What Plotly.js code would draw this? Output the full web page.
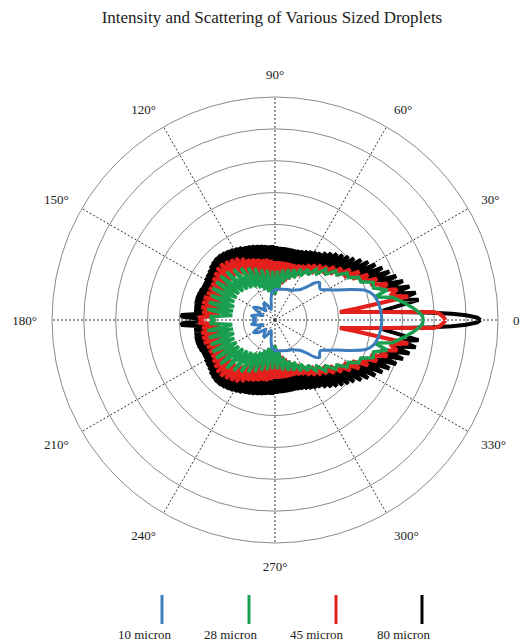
<!DOCTYPE html>
<html>
<head>
<meta charset="utf-8">
<script src="https://cdn.plot.ly/plotly-3.0.1.min.js"></script>
<style>html,body{margin:0;padding:0;background:#fff;}#chart{width:523px;height:643px;}</style>
</head>
<body>
<div id="chart"></div>
<script>
// ---- DATA (half pattern 0..180 deg, mirrored for 180..360) ----
const seriesNames = ['10 micron', '28 micron', '45 micron', '80 micron'];
const angleTickVals = [0, 30, 60, 90, 120, 150, 180, 210, 240, 270, 300, 330];
const angleTickText = ['0', '30°', '60°', '90°', '120°', '150°', '180°', '210°', '240°', '270°', '300°', '330°'];

const blueTheta = [0,5,10,14,18,22,26,30,34,37,40,43,46,50,55,60,65,70,75,80,85,90,95,100,105,110,115,120,125,130,135,140,145,150,155,160,165,170,175,180];
const blueR     = [3.35,3.33,3.28,3.2,3.0,2.55,2.15,1.9,1.72,1.75,1.83,1.7,1.45,1.25,1.15,1.08,1.05,1.02,1.0,0.98,0.97,0.95,0.9,0.7,0.45,0.35,0.45,0.6,0.62,0.5,0.4,0.55,0.7,0.78,0.55,0.4,0.6,0.75,0.6,0.7];

const greenTheta = [0,1.5,3,5,8,11,13,15,18,21,24,27,30,33,36,39,42,45,48,51,54,57,60,63,66,69,72,75,78,81,84,87,90,93,96,99,102,105,108,111,114,117,120,123,126,129,132,135,138,141,144,147,150,153,156,159,162,165,168,171,174,177,180];
const greenR     = [4.65,4.63,4.53,4.35,4.05,3.75,3.2,3.65,3.25,3.3,2.95,2.95,2.65,2.7,2.4,2.45,2.15,2.25,1.95,2.05,1.75,1.9,1.6,1.8,1.45,1.7,1.35,1.65,1.2,1.6,1.0,1.55,0.8,1.55,0.8,1.6,0.9,1.65,1.0,1.75,1.1,1.85,1.2,1.95,1.25,2.05,1.3,2.15,1.35,2.2,1.4,2.2,1.4,2.2,1.4,2.15,1.35,2.15,1.35,2.15,1.35,2.05,1.9];

const redTheta = [0,0.8,1.6,2.4,2.9,3.3,3.8,4.5,5.5,7,8,10,12,14,16,18,20,22,24,26,28,30,32,34,36,38,40,42,44,46,48,50,52,54,56,58,60,62,64,66,68,70,72,74,76,78,80,82,84,86,88,90,92,94,96,98,100,102,104,106,108,110,112,114,116,118,120,122,124,126,128,130,132,134,136,138,140,142,144,146,148,150,152,154,156,158,160,162,164,166,168,170,172,174,176,178,180];
const redR     = [5.35,5.3,5.23,5.13,4.95,4.4,3.8,3.2,2.6,2.05,2.6,4.25,3.7,3.95,3.45,3.7,3.2,3.45,2.95,3.25,2.75,3.05,2.55,2.85,2.4,2.65,2.25,2.5,2.1,2.35,1.95,2.25,1.85,2.15,1.75,2.05,1.65,1.95,1.55,1.9,1.45,1.85,1.35,1.85,1.25,1.85,1.15,1.85,1.0,1.85,0.9,1.85,0.8,1.9,0.9,1.95,1.1,1.95,1.3,2.0,1.4,2.05,1.5,2.1,1.55,2.2,1.65,2.3,1.75,2.35,1.8,2.4,1.85,2.45,1.85,2.45,1.85,2.4,1.8,2.35,1.75,2.3,1.7,2.3,1.7,2.3,1.7,2.35,1.75,2.35,1.75,2.35,1.75,2.3,1.75,2.4,2.25];

const blackTheta = [0,0.7,1.4,2,2.6,3.2,4,5,
  6.5,8,9.5,11,12.5,14,15.5,17,18.5,20,21.5,23,24.5,26,27.5,29,30.5,32,33.5,35,36.5,38,39.5,41,42.5,44,45.5,47,48.5,50,
  51.5,53,54.5,56,57.5,59,60.5,62,63.5,65,66.5,68,69.5,71,72.5,74,75.5,77,78.5,80,81.5,83,84.5,86,87.5,89,90.5,92,93.5,95,
  96.5,98,99.5,101,102.5,104,105.5,107,108.5,110,111.5,113,114.5,116,117.5,119,120.5,122,123.5,125,126.5,128,129.5,131,
  132.5,134,135.5,137,138.5,140,141.5,143,144.5,146,147.5,149,150.5,152,153.5,155,156.5,158,159.5,161,162.5,164,165.5,167,
  168.5,170,171.5,173,174.5,176,177,178,179,180];
const blackR = [6.45,6.35,6.0,5.55,4.95,4.3,3.6,3.4,
  3.9,4.55,4.0,4.5,3.8,4.35,3.6,4.2,3.45,4.05,3.3,3.9,3.15,3.75,3.0,3.6,2.85,3.45,2.7,3.3,2.55,3.15,2.45,3.05,2.35,2.95,2.25,2.85,2.15,2.75,
  2.1,2.65,2.0,2.55,1.95,2.5,1.9,2.45,1.85,2.4,1.8,2.35,1.8,2.32,1.8,2.3,1.8,2.3,1.8,2.3,1.8,2.3,1.8,2.3,1.8,2.32,1.8,2.35,1.85,2.35,
  1.85,2.37,1.9,2.4,1.9,2.42,1.95,2.45,2.0,2.48,2.0,2.5,2.05,2.55,2.1,2.58,2.15,2.62,2.2,2.65,2.25,2.68,2.3,2.7,
  2.3,2.7,2.3,2.68,2.3,2.65,2.25,2.6,2.2,2.57,2.2,2.55,2.15,2.52,2.15,2.52,2.15,2.55,2.15,2.57,2.2,2.58,2.2,2.58,
  2.2,2.56,2.2,2.55,2.15,2.55,2.95,2.9,2.35,2.25];

// ---- build symmetric full patterns from half data ----
function mirror(th, r) {
  const t = th.slice(), rr = r.slice();
  for (let i = th.length - 2; i >= 0; i--) { t.push(360 - th[i]); rr.push(r[i]); }
  return {theta: t, r: rr};
}

const colors = {blue: '#3b7dbd', green: '#1a9e4f', red: '#e3201c', black: '#000000'};
const serif = 'Liberation Serif, Times New Roman, serif';

const bk = mirror(blackTheta, blackR);
const rd = mirror(redTheta, redR);
const gr = mirror(greenTheta, greenR);
const bl = mirror(blueTheta, blueR);

const traces = [
  {type: 'scatterpolar', mode: 'lines', name: seriesNames[3], theta: bk.theta, r: bk.r, line: {color: colors.black, width: 4}},
  {type: 'scatterpolar', mode: 'lines', name: seriesNames[2], theta: rd.theta, r: rd.r, line: {color: colors.red, width: 4}},
  {type: 'scatterpolar', mode: 'lines', name: seriesNames[1], theta: gr.theta, r: gr.r, line: {color: colors.green, width: 3.5}},
  {type: 'scatterpolar', mode: 'lines', name: seriesNames[0], theta: bl.theta, r: bl.r, line: {color: colors.blue, width: 3, shape: 'spline', smoothing: 0.6}}
];

// custom legend: vertical stroke above label
const legendColors = [colors.blue, colors.green, colors.red, colors.black];
const barX = [162, 249, 336, 422];
const textX = [145, 231, 317, 404];
const shapes = [], annotations = [];
for (let i = 0; i < seriesNames.length; i++) {
  shapes.push({type: 'line', xref: 'paper', yref: 'paper',
    x0: barX[i] / 523, x1: barX[i] / 523, y0: 1 - 595 / 643, y1: 1 - 624 / 643,
    line: {color: legendColors[i], width: 3}});
  annotations.push({xref: 'paper', yref: 'paper', x: textX[i] / 523, y: 1 - 634 / 643,
    xanchor: 'center', yanchor: 'middle', showarrow: false, text: seriesNames[i],
    font: {family: serif, size: 13, color: '#222'}});
}

const layout = {
  width: 523, height: 643,
  margin: {l: 0, r: 0, t: 0, b: 0},
  paper_bgcolor: '#fff',
  showlegend: false,
  title: {text: 'Intensity and Scattering of Various Sized Droplets', x: 0.52, xanchor: 'center', y: 1 - 17 / 643, yanchor: 'middle',
          font: {family: serif, size: 17, color: '#222'}},
  font: {family: serif, size: 13, color: '#222'},
  polar: {
    domain: {x: [52 / 523, 498 / 523], y: [100 / 643, 546 / 643]},
    bgcolor: '#fff',
    radialaxis: {range: [0, 7], dtick: 1, showticklabels: false, ticks: '', showline: false,
                 gridcolor: '#8a8a8a', gridwidth: 1},
    angularaxis: {rotation: 0, direction: 'counterclockwise', tickmode: 'array',
                  tickvals: angleTickVals, ticktext: angleTickText,
                  ticks: 'outside', ticklen: 12, tickcolor: 'rgba(0,0,0,0)',
                  showline: true, linecolor: '#8a8a8a', linewidth: 1,
                  gridcolor: '#333', gridwidth: 1, griddash: '2px,2px',
                  tickfont: {family: serif, size: 13, color: '#222'}}
  },
  shapes: shapes,
  annotations: annotations
};

Plotly.newPlot('chart', traces, layout, {displayModeBar: false, staticPlot: true});
</script>
</body>
</html>
